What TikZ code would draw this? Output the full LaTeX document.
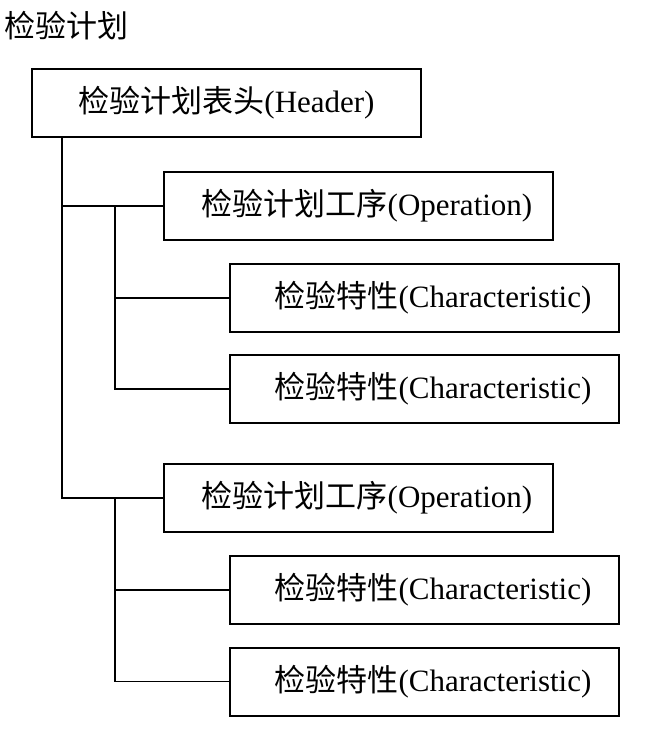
\documentclass[tikz,border=0pt]{standalone}
\usepackage{fontspec}
\setmainfont{Liberation Serif}
\newfontfamily\cjk{Noto Sans CJK SC}
\usetikzlibrary{positioning}
\tikzset{
    plan/.style={
           rectangle,
           draw=black, line width=1pt,
           minimum width=194.5pt,
           minimum height=34pt,
           inner sep=0pt,
           text centered,
           font=\fontsize{15.5}{18}\selectfont,
           },
    plan2/.style={
           plan,
           execute at begin node=\hspace*{8.5pt},
           },
    link/.style={
           draw=black, line width=0.65pt,
           },
}
\begin{document}
\begin{tikzpicture}

 \useasboundingbox (0,0) rectangle (326.5pt,-370.5pt);

 % Title
 \node[anchor=west, inner sep=0pt,
 font=\fontsize{15.5}{18}\selectfont] (TITLE) at (2pt,-12.75pt)
 {%
 {\cjk 检验计划}
 };

 % Header
 \node[plan] (HDR) at (113.25pt,-51.5pt)
 {%
 {\cjk 检验计划表头}(Header)
 };

 % First operation
 \node[plan2,
 below of=HDR,
 xshift=66pt,
 node distance=51.5pt] (OP1)
 {%
 {\cjk 检验计划工序}(Operation)
 };

 \node[plan2,
 below of=OP1,
 xshift=33pt,
 node distance=46pt] (CH1)
 {%
 {\cjk 检验特性}(Characteristic)
 };

 \node[plan2,
 below of=CH1,
 node distance=45.5pt] (CH2)
 {%
 {\cjk 检验特性}(Characteristic)
 };

 % Second operation
 \node[plan2,
 below of=CH2,
 xshift=-33pt,
 node distance=54.5pt] (OP2)
 {%
 {\cjk 检验计划工序}(Operation)
 };

 \node[plan2,
 below of=OP2,
 xshift=33pt,
 node distance=46pt] (CH3)
 {%
 {\cjk 检验特性}(Characteristic)
 };

 \node[plan2,
 below of=CH3,
 node distance=45.75pt] (CH4)
 {%
 {\cjk 检验特性}(Characteristic)
 };

 % draw the tree lines
 \draw[link] (HDR.south west) ++(15.5pt,0) |- (OP1.west);
 \draw[link] (HDR.south west) ++(15.5pt,0) |- (OP2.west);
 \draw[link] (OP1.west) ++(-24pt,0) |- (CH1.west);
 \draw[link] (OP1.west) ++(-24pt,0) |- (CH2.west);
 \draw[link] (OP2.west) ++(-24pt,0) |- (CH3.west);
 \draw[link] (OP2.west) ++(-24pt,0) |- (CH4.west);

\end{tikzpicture}
\end{document}
